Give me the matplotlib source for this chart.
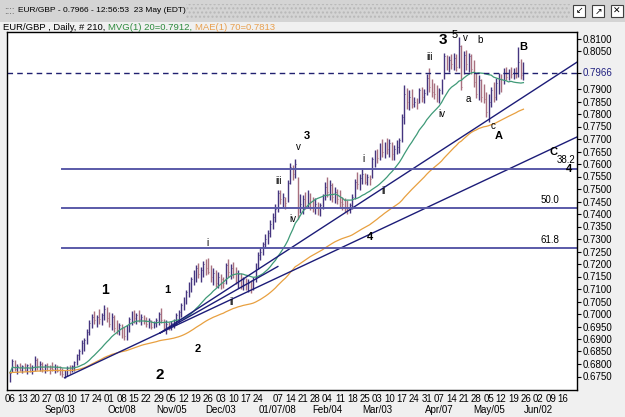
import numpy as np
import pandas as pd
import matplotlib
matplotlib.use("Agg")
import matplotlib.pyplot as plt
from matplotlib.patches import Rectangle
from matplotlib.transforms import blended_transform_factory

plt.rcParams['font.family'] = ['Liberation Sans', 'DejaVu Sans']

# EUR/GBP daily bars, 06 Aug 2007 .. 23 May 2008 (25 Dec and 1 Jan skipped)
highs = [
    .6770, .6822, .6818, .6800, .6806,  .6798, .6805, .6800, .6803, .6796,
    .6830, .6825, .6812, .6808, .6800,  .6806, .6795, .6808, .6800, .6796,
    .6790, .6785, .6778, .6790, .6795,  .6795, .6812, .6840, .6862, .6895,
    .6905, .6940, .6978, .7000, .7012,  .6998, .7020, .7005, .7038, .7030,
    .7010, .7005, .6998, .6975, .6965,  .6960, .6950, .6958, .6990, .7012,
    .7015, .7005, .7018, .7000, .6998,  .6990, .6985, .6978, .6972, .6985,
    .7008, .7026, .6982, .6975, .6970,  .6972, .6980, .7005, .7018, .7045,
    .7070, .7095, .7128, .7150, .7178,  .7195, .7205, .7190, .7212, .7220,
    .7225, .7198, .7185, .7175, .7168,  .7160, .7150, .7205, .7220, .7200,
    .7210, .7190, .7175, .7165, .7150,  .7145, .7140, .7135, .7150, .7205,
    .7250, .7268, .7290, .7320,         .7338, .7375, .7405, .7440,
    .7498, .7495, .7485, .7470, .7538,  .7605, .7595, .7622, .7550, .7480,
    .7475, .7490, .7495, .7485, .7470,  .7465, .7450, .7445, .7480, .7530,
    .7550, .7535, .7525, .7510, .7500,  .7495, .7470, .7465, .7455, .7445,
    .7480, .7540, .7570, .7560, .7585,  .7565, .7560, .7558, .7630, .7655,
    .7660, .7685, .7700, .7690, .7705,  .7700, .7690, .7675, .7695, .7705,
    .7800, .7918, .7905, .7895, .7900,  .7870, .7865, .7905, .7910, .7900,
    .7960, .7985, .7940, .7925, .7915,  .7905, .7940, .8045, .8035, .8030,
    .8040, .8045, .8040, .8108, .8075,  .8050, .8058, .8045, .8040, .8015,
    .7965, .7955, .7940, .7920, .7890,  .7880, .7910, .7930, .7945, .7965,
    .7960, .7985, .7988, .7980, .7990,  .7985, .7990, .8068, .8020, .8010,
]
lows = [
    .6730, .6768, .6772, .6762, .6770,  .6765, .6770, .6762, .6768, .6760,
    .6772, .6778, .6770, .6768, .6765,  .6770, .6762, .6772, .6765, .6768,
    .6755, .6748, .6745, .6752, .6760,  .6768, .6772, .6795, .6815, .6840,
    .6850, .6880, .6915, .6945, .6960,  .6950, .6962, .6958, .6975, .6970,
    .6950, .6935, .6930, .6920, .6915,  .6905, .6898, .6895, .6930, .6955,
    .6965, .6962, .6970, .6958, .6962,  .6950, .6945, .6940, .6945, .6950,
    .6958, .6965, .6935, .6922, .6935,  .6938, .6945, .6955, .6970, .6990,
    .7015, .7040, .7070, .7090, .7115,  .7130, .7145, .7128, .7150, .7155,
    .7160, .7130, .7115, .7108, .7105,  .7100, .7102, .7120, .7150, .7140,
    .7145, .7120, .7105, .7100, .7095,  .7098, .7090, .7082, .7095, .7130,
    .7180, .7215, .7235, .7265,         .7280, .7310, .7340, .7370,
    .7410, .7440, .7430, .7420, .7450,  .7520, .7535, .7545, .7380, .7405,
    .7400, .7420, .7425, .7415, .7410,  .7400, .7395, .7392, .7420, .7455,
    .7470, .7455, .7450, .7445, .7440,  .7430, .7415, .7410, .7400, .7405,
    .7420, .7460, .7500, .7495, .7520,  .7520, .7515, .7518, .7545, .7590,
    .7605, .7615, .7630, .7625, .7640,  .7630, .7618, .7615, .7640, .7645,
    .7690, .7760, .7820, .7815, .7825,  .7828, .7820, .7845, .7850, .7845,
    .7875, .7890, .7870, .7860, .7850,  .7845, .7880, .7940, .7975, .7968,
    .7980, .7975, .7972, .7985, .7895,  .7960, .7975, .7968, .7960, .7908,
    .7865, .7855, .7850, .7845, .7790,  .7768, .7830, .7850, .7855, .7880,
    .7890, .7920, .7935, .7938, .7945,  .7940, .7945, .7950, .7940, .7938,
]
closes = [
    .6765, .6810, .6780, .6790, .6775,  .6790, .6775, .6795, .6772, .6788,
    .6815, .6790, .6800, .6780, .6795,  .6790, .6785, .6780, .6790, .6772,
    .6765, .6760, .6770, .6785, .6775,  .6790, .6808, .6835, .6850, .6885,
    .6898, .6930, .6965, .6990, .6975,  .6990, .6980, .6995, .7020, .6985,
    .6960, .6990, .6945, .6935, .6955,  .6925, .6912, .6945, .6980, .6995,
    .6985, .6998, .6980, .6990, .6975,  .6960, .6975, .6950, .6965, .6978,
    .7000, .6975, .6945, .6960, .6950,  .6965, .6975, .6998, .7010, .7035,
    .7060, .7088, .7115, .7140, .7160,  .7185, .7160, .7175, .7200, .7185,
    .7170, .7150, .7165, .7125, .7150,  .7140, .7125, .7195, .7170, .7185,
    .7160, .7130, .7160, .7115, .7140,  .7110, .7125, .7100, .7140, .7195,
    .7235, .7250, .7280, .7300,         .7325, .7360, .7390, .7420,
    .7485, .7460, .7470, .7445, .7525,  .7590, .7560, .7600, .7395, .7440,
    .7460, .7430, .7480, .7450, .7425,  .7440, .7420, .7435, .7470, .7510,
    .7490, .7515, .7470, .7490, .7460,  .7450, .7440, .7425, .7415, .7435,
    .7470, .7530, .7520, .7545, .7560,  .7530, .7550, .7540, .7620, .7640,
    .7625, .7670, .7650, .7680, .7660,  .7685, .7640, .7660, .7670, .7695,
    .7790, .7880, .7850, .7870, .7840,  .7850, .7845, .7895, .7870, .7885,
    .7945, .7910, .7890, .7880, .7870,  .7895, .7930, .8030, .7995, .8015,
    .8000, .8025, .7990, .8070, .7910,  .8035, .8000, .8030, .7980, .7930,
    .7880, .7935, .7870, .7860, .7810,  .7850, .7895, .7870, .7925, .7950,
    .7940, .7975, .7950, .7970, .7960,  .7975, .7965, .8010, .7955, .7966,
]

# y axis labels (0.7950 and 0.8000 are hidden behind the last price tag)
price_ticks = [0.6750, 0.6800, 0.6850, 0.6900, 0.6950, 0.7000, 0.7050, 0.7100,
               0.7150, 0.7200, 0.7250, 0.7300, 0.7350, 0.7400, 0.7450, 0.7500,
               0.7550, 0.7600, 0.7650, 0.7700, 0.7750, 0.7800, 0.7850, 0.7900,
               0.8050, 0.8100]
last_price = 0.7966

month_labels = [('2007-09-03', 'Sep/03'), ('2007-10-08', 'Oct/08'), ('2007-11-05', 'Nov/05'),
                ('2007-12-03', 'Dec/03'), ('2008-01-07', '01/07/08'), ('2008-02-04', 'Feb/04'),
                ('2008-03-03', 'Mar/03'), ('2008-04-07', 'Apr/07'), ('2008-05-05', 'May/05'),
                ('2008-06-02', 'Jun/02')]

fib_levels = [0.7581, 0.7423, 0.7263]
fib_names = ['38.2', '50.0', '61.8']

# trend lines: (start bar, start price, end bar, end price)
trend_lines = [
    (22.0, 0.6745, 229.0, 0.7710),
    (60.5, 0.6924, 229.0, 0.8010),
    (60.5, 0.6924, 108.0, 0.7190),
]

# elliott wave labels: text, bar, price, size, bold
waves = [
    ('1', 38.3, 0.7096, 10, True), ('1', 63.3, 0.7096, 8, True),
    ('2', 60.5, 0.6756, 11, True), ('2', 75.8, 0.6860, 8, True),
    ('i', 79.8, 0.7284, 7, False), ('ii', 89.5, 0.7048, 7, False),
    ('3', 119.8, 0.7712, 8, True), ('v', 116.1, 0.7668, 7, False),
    ('iii', 108.1, 0.7532, 7, False), ('iv', 114.1, 0.7380, 7, False),
    ('4', 145.2, 0.7308, 8, True), ('i', 142.7, 0.7620, 7, False),
    ('ii', 150.4, 0.7492, 7, False), ('3', 174.6, 0.8096, 11, True),
    ('5', 179.4, 0.8114, 8, False), ('v', 183.5, 0.8104, 7, False),
    ('b', 189.5, 0.8096, 7, False), ('iii', 169.0, 0.8028, 7, False),
    ('iv', 174.2, 0.7800, 7, False), ('a', 184.7, 0.7860, 7, False),
    ('c', 194.8, 0.7752, 7, False), ('A', 197.2, 0.7712, 8, True),
    ('B', 206.9, 0.8068, 8, True), ('C', 219.0, 0.7648, 8, True),
]

dates = pd.bdate_range('2007-08-06', '2008-06-20')
dates = dates[~dates.isin(pd.to_datetime(['2007-12-25', '2008-01-01']))]
n = len(closes)
idx = np.arange(n)
c = pd.Series(closes)
mvg20 = c.rolling(20, min_periods=1).mean()
mae70 = c.ewm(span=70, adjust=False).mean()

fig = plt.figure(figsize=(6.25, 4.17), dpi=100, facecolor='#f0f0f0')
ax = fig.add_axes([7/625, 27/417, 570/625, 358/417])
ax.set_facecolor('white')

opens = np.r_[closes[0], closes[:-1]]
cols = np.where(np.array(closes) >= opens, '#45357f', '#a8707f')
ax.vlines(idx, lows, highs, colors=cols, lw=1.0)
ax.hlines(closes, idx, idx + 0.35, colors=cols, lw=0.6)

ax.plot(idx, mvg20, color='#3f9a78', lw=0.9)
ax.plot(idx, mae70, color='#e8a040', lw=0.9)

for x0, y0, x1, y1 in trend_lines:
    ax.plot([x0, x1], [y0, y1], color='#1c1c78', lw=1.0)

for lev, name in zip(fib_levels, fib_names):
    ax.plot([21, 229], [lev, lev], color='#5a5aa8', lw=1.4)
ax.text(220.5, 0.7604, '38.2', fontsize=7)
ax.text(214, 0.7444, '50.0', fontsize=7)
ax.text(214, 0.7284, '61.8', fontsize=7)
ax.text(225.2, 0.7582, '4', fontsize=8, fontweight='bold', ha='center', va='center')

ax.axhline(last_price, color='#202070', lw=1.0, dashes=(4, 3))

for t, x, y, s, b in waves:
    ax.text(x, y, t, fontsize=s, fontweight='bold' if b else 'normal',
            ha='center', va='center', color='black')

ax.set_xlim(-1.2, 228.6)
ax.set_ylim(0.6696, 0.8128)

# x axis: every monday, the 31 Dec label is missing in the original
mondays = [i for i, d in enumerate(dates) if d.weekday() == 0 and d != pd.Timestamp('2007-12-31')]
ax.set_xticks(mondays)
ax.set_xticklabels([dates[i].strftime('%d') for i in mondays])
ax.tick_params(axis='x', length=0, labelsize=7, pad=3)
tr = blended_transform_factory(ax.transData, ax.transAxes)
for d, lab in month_labels:
    ax.text(dates.get_loc(pd.Timestamp(d)), -0.056, lab, transform=tr,
            fontsize=7, ha='center', va='center')

ax.yaxis.tick_right()
ax.set_yticks(price_ticks + [last_price])
ax.set_yticklabels(['%.4f' % p for p in price_ticks] + ['%.4f' % last_price])
ax.get_yticklabels()[-1].set_color('#202080')
ax.tick_params(axis='y', length=3, width=0.8, labelsize=7, pad=1)
for sp in ax.spines.values():
    sp.set_color('black')
    sp.set_linewidth(1.0)

# window title bar
fig.add_artist(Rectangle((0, 1 - 22/417), 1, 22/417, transform=fig.transFigure,
                         facecolor='#d4d4d4', edgecolor='none'))
fig.add_artist(Rectangle((186/625, 1 - 18/417), 384/625, 14/417, transform=fig.transFigure,
                         facecolor='#d4d4d4', edgecolor='#b8b8b8', hatch='....', lw=0))
fig.text(4/625, 1 - 11/417, '::::', fontsize=7, va='center', color='#555555')
fig.text(18/625, 1 - 11/417, 'EUR/GBP - 0.7966 - 12:56:53  23 May (EDT)',
         fontsize=6.0, va='center')
for xb, sym in [(579, '\u2199'), (598, '\u2197'), (617, '\u2715')]:
    fig.add_artist(Rectangle(((xb - 6)/625, 1 - 17/417), 12/625, 12/417, transform=fig.transFigure,
                             facecolor='white', edgecolor='#404040', lw=0.8))
    fig.text(xb/625, 1 - 11/417, sym, fontsize=6.5, ha='center', va='center')

# indicator caption, pieces placed one after another
renderer = fig.canvas.get_renderer()
xpos = 3
for part, col in [('EUR/GBP , Daily, # 210, ', 'black'),
                  ('MVG(1) 20=0.7912, ', '#2e8b3e'),
                  ('MAE(1) 70=0.7813', '#e8a050')]:
    t = fig.text(xpos/625, 1 - 27/417, part, fontsize=6.8, va='center', color=col)
    xpos += t.get_window_extent(renderer).width

fig.savefig('out.png', dpi=100, facecolor=fig.get_facecolor())
